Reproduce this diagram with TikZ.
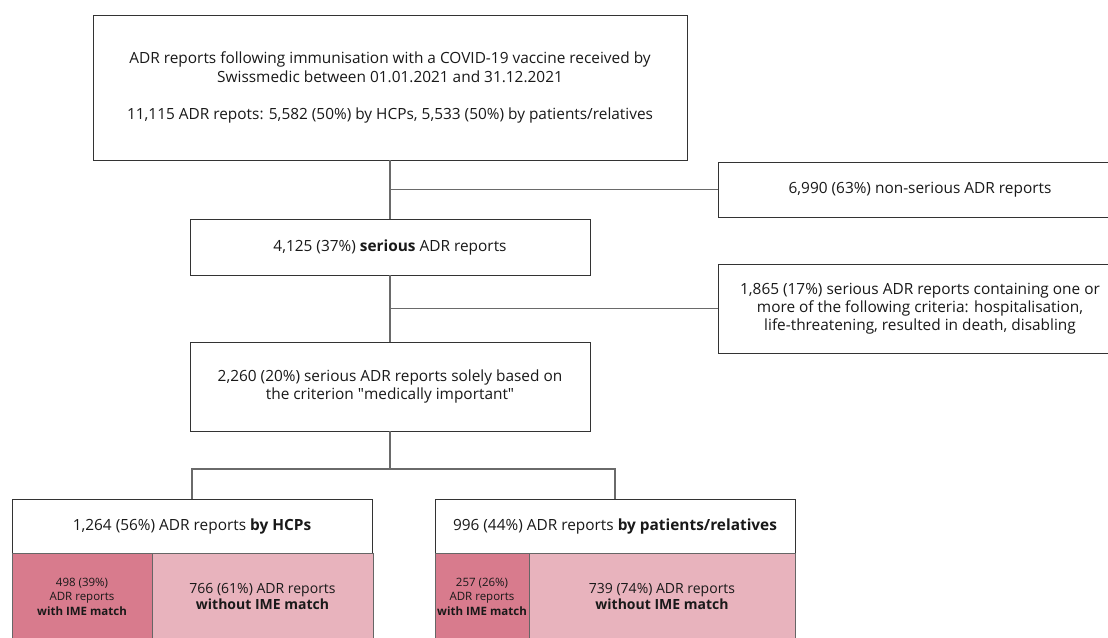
\documentclass[tikz,border=0pt]{standalone}
\usepackage{fontspec}
\setmainfont{Open Sans}
\usepackage{tikz}
\usepackage{xcolor}

\definecolor{imedark}{HTML}{D87B8D}
\definecolor{imelight}{HTML}{E8B3BD}
\definecolor{linkgray}{HTML}{6A6A6A}

\begin{document}
\begin{tikzpicture}[x=1pt, y=-1pt,
    box/.style={draw=black!80, line width=0.9pt, fill=white, inner sep=0pt, align=center,
        text=black!90, font=\fontsize{15.4}{18.2}\selectfont},
    subbox/.style={draw=black!60, line width=0.9pt, inner sep=0pt, align=center,
        text=black!90, minimum height=87pt},
    link/.style={draw=linkgray, line width=1.1pt}]
    \useasboundingbox (0,0) rectangle (1108,637);
    \clip (0,0) rectangle (1108,637);

    % Main column
    \node[box, minimum width=594pt, minimum height=145pt] (total) at (390,87.5)
        {ADR reports following immunisation with a COVID-19 vaccine received by\\
         Swissmedic between 01.01.2021 and 31.12.2021\\[19pt]
         11,115 ADR repots: 5,582 (50\%) by HCPs, 5,533 (50\%) by patients/relatives};
    \node[box, minimum width=400pt, minimum height=56pt] (serious) at (390,247)
        {4,125 (37\%) \textbf{serious} ADR reports};
    \node[box, minimum width=400pt, minimum height=89pt] (medimp) at (390,386.5)
        {2,260 (20\%) serious ADR reports solely based on\\
         the criterion \textquotedbl medically important\textquotedbl};

    % Side branches
    \node[box, minimum width=404pt, minimum height=55pt] (nonser) at (920,189.5)
        {6,990 (63\%) non-serious ADR reports};
    \node[box, minimum width=404pt, minimum height=89pt] (crit) at (920,308.5)
        {1,865 (17\%) serious ADR reports containing one or\\
         more of the following criteria: hospitalisation,\\
         life-threatening, resulted in death, disabling};

    % Reporters
    \node[box, minimum width=360pt, minimum height=54pt] (hcp) at (192,526)
        {1,264 (56\%) ADR reports \textbf{by HCPs}};
    \node[box, minimum width=360pt, minimum height=54pt] (pat) at (615,526)
        {996 (44\%) ADR reports \textbf{by patients/relatives}};

    % IME match
    \node[subbox, fill=imedark, minimum width=140pt, font=\fontsize{11.5}{14.5}\selectfont] (hcpime) at (82,596.5)
        {498 (39\%)\\ADR reports\\\textbf{with IME match}};
    \node[subbox, fill=imelight, minimum width=221pt, font=\fontsize{14}{16}\selectfont] (hcpno) at (262.5,596.5)
        {766 (61\%) ADR reports\\\textbf{without IME match}};
    \node[subbox, fill=imedark, minimum width=94pt, font=\fontsize{11.5}{14.5}\selectfont] (patime) at (482,596.5)
        {257 (26\%)\\ADR reports\\\textbf{with IME match}};
    \node[subbox, fill=imelight, minimum width=266pt, font=\fontsize{14}{16}\selectfont] (patno) at (662,596.5)
        {739 (74\%) ADR reports\\\textbf{without IME match}};

    % Connectors
    \draw[link] (total.south) -- (serious.north);
    \draw[link] (total.south |- nonser.west) -- (nonser.west);
    \draw[link] (serious.south) -- (medimp.north);
    \draw[link] (serious.south |- crit.west) -- (crit.west);
    \coordinate (split) at (390,469);
    \draw[link] (medimp.south) -- (split);
    \draw[link] (split) -| (hcp.north);
    \draw[link] (split) -| (pat.north);
\end{tikzpicture}
\end{document}
